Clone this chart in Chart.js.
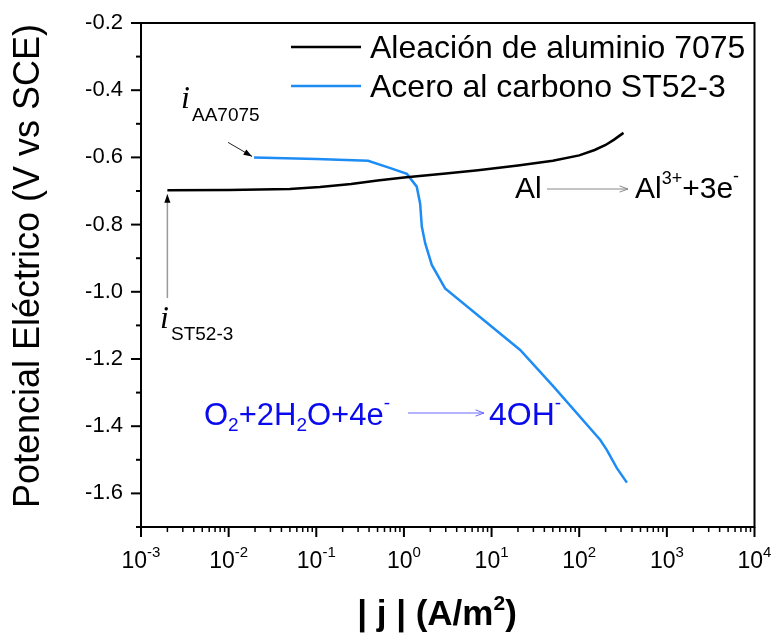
<!DOCTYPE html>
<html><head><meta charset="utf-8">
<script src="https://cdn.jsdelivr.net/npm/chart.js@4/dist/chart.umd.min.js"></script>
<style>html,body{margin:0;padding:0;background:#fff;}</style>
</head><body>
<canvas id="c" width="773" height="634"></canvas>
<script>
// ---- data ----
const alCurrent   = [0.002, 0.01, 0.05, 0.11, 0.25, 0.5, 1, 3, 7, 20, 50, 100, 150, 200, 250, 320];
const alPotential = [-0.698, -0.697, -0.694, -0.688, -0.679, -0.669, -0.660, -0.648, -0.638, -0.624, -0.610, -0.594, -0.578, -0.563, -0.547, -0.527];
const stCurrent   = [0.0195, 0.1, 0.39, 0.70, 1.08, 1.40, 1.53, 1.60, 1.75, 2.08, 2.95, 21.2, 51, 174, 207, 269, 350];
const stPotential = [-0.600, -0.605, -0.610, -0.632, -0.649, -0.687, -0.737, -0.806, -0.856, -0.920, -0.990, -1.173, -1.282, -1.441, -1.471, -1.525, -1.568];
const seriesNames = ['Aleación de aluminio 7075', 'Acero al carbono ST52-3'];
const seriesColors = ['#000000', '#1e8cf5'];
const xTickExponents = [-3, -2, -1, 0, 1, 2, 3, 4];
const yTickValues = [-0.2, -0.4, -0.6, -0.8, -1.0, -1.2, -1.4, -1.6];
const yTickLabels = ['-0.2', '-0.4', '-0.6', '-0.8', '-1.0', '-1.2', '-1.4', '-1.6'];
const yTitle = 'Potencial Eléctrico (V vs SCE)';

const FONT = '"Liberation Sans", Arial, sans-serif';

function rich(ctx, x, y, parts, align, color) {
  // parts: [text, size, dy, bold]
  let w = 0;
  parts.forEach(p => { ctx.font = (p[3] ? 'bold ' : '') + p[1] + 'px ' + FONT; w += ctx.measureText(p[0]).width; });
  let cx = align === 'center' ? x - w / 2 : (align === 'right' ? x - w : x);
  ctx.fillStyle = color || '#000';
  ctx.textAlign = 'left';
  ctx.textBaseline = 'alphabetic';
  parts.forEach(p => {
    ctx.font = (p[3] ? 'bold ' : '') + p[1] + 'px ' + FONT;
    ctx.fillText(p[0], cx, y + (p[2] || 0));
    cx += ctx.measureText(p[0]).width;
  });
  return w;
}

function arrow(ctx, x1, y1, x2, y2, lineColor, headColor, lw, open) {
  ctx.save();
  ctx.strokeStyle = lineColor; ctx.lineWidth = lw;
  ctx.beginPath(); ctx.moveTo(x1, y1); ctx.lineTo(x2, y2); ctx.stroke();
  const a = Math.atan2(y2 - y1, x2 - x1), L = 9, s = 0.35;
  ctx.beginPath();
  ctx.moveTo(x2 - L * Math.cos(a - s), y2 - L * Math.sin(a - s));
  ctx.lineTo(x2, y2);
  ctx.lineTo(x2 - L * Math.cos(a + s), y2 - L * Math.sin(a + s));
  if (open) { ctx.strokeStyle = headColor; ctx.stroke(); }
  else { ctx.closePath(); ctx.fillStyle = headColor; ctx.fill(); }
  ctx.restore();
}

const decor = {
  id: 'decor',
  afterDraw(chart) {
    const ctx = chart.ctx, a = chart.chartArea, xs = chart.scales.x, ys = chart.scales.y;
    ctx.save();
    // frame
    ctx.strokeStyle = '#000'; ctx.lineWidth = 2;
    ctx.strokeRect(a.left, a.top, a.right - a.left, a.bottom - a.top);
    // y ticks
    for (let k = 2; k <= 17; k++) {
      const v = -k / 10, py = ys.getPixelForValue(v);
      const major = k % 2 === 0;
      ctx.beginPath(); ctx.moveTo(a.left, py); ctx.lineTo(a.left - (major ? 10 : 5), py); ctx.stroke();
    }
    ctx.font = '22px ' + FONT; ctx.fillStyle = '#000'; ctx.textAlign = 'right'; ctx.textBaseline = 'middle';
    yTickValues.forEach((v, i) => ctx.fillText(yTickLabels[i], a.left - 18, ys.getPixelForValue(v)));
    // x ticks
    xTickExponents.forEach((e, i) => {
      const px = xs.getPixelForValue(Math.pow(10, e));
      ctx.lineWidth = 2;
      ctx.beginPath(); ctx.moveTo(px, a.bottom); ctx.lineTo(px, a.bottom + 10); ctx.stroke();
      if (i < xTickExponents.length - 1) {
        for (let m = 2; m <= 9; m++) {
          const pm = xs.getPixelForValue(m * Math.pow(10, e));
          ctx.lineWidth = 1.5;
          ctx.beginPath(); ctx.moveTo(pm, a.bottom); ctx.lineTo(pm, a.bottom + 5); ctx.stroke();
        }
      }
      rich(ctx, px, 568, [['10', 23], [String(e), 15, -11]], 'center');
    });
    // axis titles
    ctx.save();
    ctx.translate(29, 266); ctx.rotate(-Math.PI / 2);
    ctx.font = '36px ' + FONT; ctx.fillStyle = '#000'; ctx.textAlign = 'center'; ctx.textBaseline = 'middle';
    ctx.fillText(yTitle, 0, 0);
    ctx.restore();
    rich(ctx, 437, 625, [['| j | (A/m', 35, 0, true], ['2', 21, -15, true], [')', 35, 0, true]], 'center');
    // legend
    [0, 1].forEach(i => {
      const ly = i === 0 ? 47 : 86;
      ctx.strokeStyle = seriesColors[i]; ctx.lineWidth = 2.5;
      ctx.beginPath(); ctx.moveTo(291, ly); ctx.lineTo(361, ly); ctx.stroke();
      rich(ctx, 370, ly + 11, [[seriesNames[i], 32]], 'left');
    });
    // annotation i_AA7075
    ctx.font = 'italic 32px "Liberation Serif", "Times New Roman", serif';
    ctx.fillStyle = '#000'; ctx.textAlign = 'left'; ctx.textBaseline = 'alphabetic';
    ctx.fillText('i', 181, 108);
    rich(ctx, 192, 121, [['AA7075', 19]], 'left');
    const tA = [xs.getPixelForValue(stCurrent[0]) - 2, ys.getPixelForValue(stPotential[0]) - 1];
    arrow(ctx, tA[0] - 24, tA[1] - 14, tA[0], tA[1], '#222', '#000', 1, false);
    // annotation i_ST52-3
    ctx.font = 'italic 32px "Liberation Serif", "Times New Roman", serif';
    ctx.fillStyle = '#000'; ctx.textAlign = 'left';
    ctx.fillText('i', 160, 328);
    rich(ctx, 171, 340, [['ST52-3', 19]], 'left');
    const tS = [xs.getPixelForValue(alCurrent[0]), ys.getPixelForValue(alPotential[0]) + 4];
    arrow(ctx, tS[0], 298, tS[0], tS[1], '#999', '#000', 1.5, false);
    // Al -> Al3+ + 3e-
    rich(ctx, 515, 198, [['Al', 30]], 'left');
    arrow(ctx, 547, 189, 628, 189, '#888', '#888', 1, true);
    rich(ctx, 635, 198, [['Al', 30], ['3+', 18, -14], ['+3e', 30], ['-', 18, -16]], 'left');
    // O2 + 2H2O + 4e- -> 4OH-
    const B = '#0a0aee';
    rich(ctx, 204, 425, [['O', 31], ['2', 19, 6], ['+2H', 31], ['2', 19, 6], ['O+4e', 31], ['-', 19, -16]], 'left', B);
    arrow(ctx, 408, 413, 484, 413, '#6a6aff', '#6a6aff', 1, true);
    rich(ctx, 489, 425, [['4OH', 32], ['-', 19, -16]], 'left', B);
    ctx.restore();
  }
};

new Chart(document.getElementById('c'), {
  type: 'line',
  data: {
    datasets: [
      { label: seriesNames[0], data: alCurrent.map((x, i) => ({ x, y: alPotential[i] })), borderColor: seriesColors[0], borderWidth: 2.5, pointRadius: 0, tension: 0, fill: false },
      { label: seriesNames[1], data: stCurrent.map((x, i) => ({ x, y: stPotential[i] })), borderColor: seriesColors[1], borderWidth: 2.5, pointRadius: 0, tension: 0, fill: false }
    ]
  },
  options: {
    responsive: false, animation: false,
    layout: { padding: { left: 141, top: 23, right: 18.5, bottom: 107 } },
    scales: {
      x: { type: 'logarithmic', min: 1e-3, max: 1e4, display: false },
      y: { type: 'linear', min: -1.7, max: -0.2, display: false }
    },
    plugins: { legend: { display: false }, tooltip: { enabled: false } }
  },
  plugins: [decor]
});
</script>
</body></html>
